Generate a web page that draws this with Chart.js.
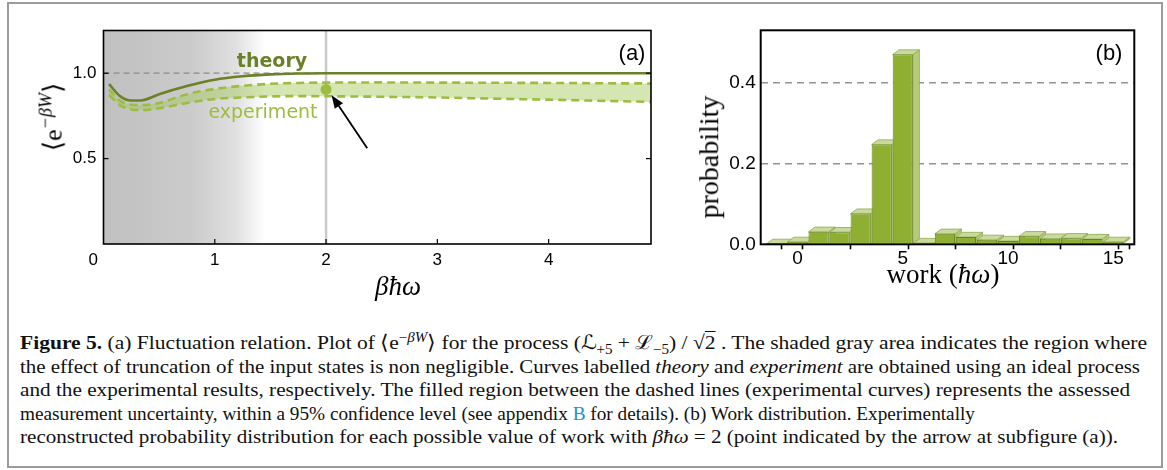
<!DOCTYPE html>
<html>
<head>
<meta charset="utf-8">
<script src="https://cdn.jsdelivr.net/npm/chart.js@4.4.1/dist/chart.umd.min.js"></script>
<style>
  html, body { margin: 0; padding: 0; background: #fff; }
  body { width: 1167px; height: 470px; overflow: hidden; position: relative; font-family: "Liberation Sans", Arial, sans-serif; }
  #frame { position: absolute; left: 7px; top: 2px; width: 1152px; height: 462px; border: 2px solid #9b9b9b; }
  canvas { position: absolute; }
  #chartA { left: 20px; top: 10px; }
  #chartB { left: 690px; top: 10px; }
  .lbl { position: absolute; white-space: nowrap; transform: translate(-50%, -50%); line-height: 1.2; }
  .rot { transform: translate(-50%, -50%) rotate(-90deg); }
  .serif { font-family: "Liberation Serif", "DejaVu Serif", serif; }
  .cap { position: absolute; left: 20px; white-space: nowrap; font-family: "Liberation Serif", serif; font-size: 19.5px; line-height: 23px; color: #111; transform-origin: left center; }
  .cap sup, .cap sub { font-size: 0.7em; line-height: 0; }
</style>
</head>
<body>
<div id="frame"></div>
<canvas id="chartA" width="650" height="300"></canvas>
<canvas id="chartB" width="470" height="300"></canvas>

<div class="lbl" style="left:272px;top:60px;font-family:'DejaVu Sans';font-weight:bold;font-size:19px;color:#6a8128;">theory</div>
<div class="lbl" style="left:263px;top:111px;font-family:'DejaVu Sans';font-size:19px;color:#9cbd3f;">experiment</div>
<div class="lbl" style="left:632px;top:53px;font-size:22px;">(a)</div>
<div class="lbl" style="left:1109px;top:53px;font-size:22px;">(b)</div>
<div class="lbl rot serif" style="left:52px;top:117px;font-size:26px;">⟨e<sup style="font-size:0.7em;font-style:italic;">−βW</sup>⟩</div>
<div class="lbl serif" style="left:398px;top:286px;font-size:27px;font-style:italic;">βħω</div>
<div class="lbl rot serif" style="left:709px;top:157px;font-size:28px;">probability</div>
<div class="lbl serif" style="left:943px;top:274px;font-size:27px;">work (<i>ħω</i>)</div>

<div class="cap" style="top:331px;"><span><b>Figure 5.</b> (a) Fluctuation relation. Plot of ⟨e<sup>−<i>βW</i></sup>⟩ for the process (ℒ<sub>+5</sub> + ℒ<sub>−5</sub>) / √<span style="text-decoration:overline">2</span> . The shaded gray area indicates the region where</span></div>
<div class="cap" style="top:355px;"><span>the effect of truncation of the input states is non negligible. Curves labelled <i>theory</i> and <i>experiment</i> are obtained using an ideal process</span></div>
<div class="cap" style="top:378px;"><span>and the experimental results, respectively. The filled region between the dashed lines (experimental curves) represents the assessed</span></div>
<div class="cap" style="top:402px;"><span>measurement uncertainty, within a 95% confidence level (see appendix <span style="color:#1a93d0">B</span> for details). (b) Work distribution. Experimentally</span></div>
<div class="cap" style="top:425px;"><span>reconstructed probability distribution for each possible value of work with <i>βħω</i> = 2 (point indicated by the arrow at subfigure (a)).</span></div>

<script>
// ---- (a) fluctuation relation ----
const betaHw = [0.05, 0.15, 0.25, 0.35, 0.5, 0.75, 1.0, 1.25, 1.5, 1.75, 2.0, 2.5, 3.0, 3.5, 4.0, 4.5, 4.92];
const theory = [0.936, 0.865, 0.840, 0.842, 0.877, 0.925, 0.962, 0.982, 0.993, 0.998, 1.0, 1.0, 1.0, 1.0, 1.0, 1.0, 1.0];
const expUpper = [0.905, 0.838, 0.815, 0.813, 0.826, 0.877, 0.908, 0.926, 0.938, 0.943, 0.945, 0.946, 0.945, 0.944, 0.943, 0.941, 0.940];
const expLower = [0.872, 0.812, 0.788, 0.784, 0.795, 0.826, 0.849, 0.858, 0.864, 0.866, 0.865, 0.862, 0.858, 0.851, 0.845, 0.838, 0.832];
const measuredPoint = { x: 2.0, y: 0.905 };
const arrowTail = { x: 2.37, y: 0.56 };
const arrowTip = { x: 2.05, y: 0.871 };
const betaTicks = [0, 1, 2, 3, 4];
const expTicks = [0.5, 1.0];
const shadeEnd = 1.45;

// ---- (b) work distribution ----
const work = [-1, 0, 1, 2, 3, 4, 5, 6, 7, 8, 9, 10, 11, 12, 13, 14, 15];
const workProb = [0.001, 0.006, 0.031, 0.030, 0.076, 0.247, 0.470, 0.003, 0.026, 0.018, 0.011, 0.008, 0.020, 0.014, 0.015, 0.013, 0.006];
const workTickMarks = [-0.5, 0, 0.5, 4.5, 5, 5.5, 9.5, 10, 10.5, 14.5, 15, 15.5];
const probTicks = [0, 0.2, 0.4];

const xy = (xs, ys) => xs.map((x, i) => ({ x, y: ys[i] }));
const tickFont = { family: "Liberation Sans", size: 17 };

const decorA = {
  id: "decorA",
  beforeDraw(chart) {
    const { ctx, chartArea: a, scales: { x, y } } = chart;
    ctx.save();
    const x0 = x.getPixelForValue(0), x1 = x.getPixelForValue(shadeEnd);
    const g = ctx.createLinearGradient(x0, 0, x1, 0);
    g.addColorStop(0, "#c0c0c0");
    g.addColorStop(0.55, "#cbcbcb");
    g.addColorStop(0.82, "#e0e0e0");
    g.addColorStop(1, "#ffffff");
    ctx.fillStyle = g;
    ctx.fillRect(x0, a.top, x1 - x0, a.bottom - a.top);
    // reference line at 1
    ctx.strokeStyle = "#8a8a8a";
    ctx.lineWidth = 1.2;
    ctx.setLineDash([6, 4]);
    ctx.beginPath();
    ctx.moveTo(a.left, y.getPixelForValue(1));
    ctx.lineTo(a.right, y.getPixelForValue(1));
    ctx.stroke();
    ctx.setLineDash([]);
    // marker line at the measured value
    const xm = x.getPixelForValue(measuredPoint.x);
    ctx.strokeStyle = "#c9c9c9";
    ctx.lineWidth = 2.5;
    ctx.beginPath();
    ctx.moveTo(xm, a.top);
    ctx.lineTo(xm, a.bottom);
    ctx.stroke();
    ctx.restore();
  },
  afterDatasetsDraw(chart) {
    const { ctx, chartArea: a, scales: { x, y } } = chart;
    ctx.save();
    // arrow
    const tx = x.getPixelForValue(arrowTail.x), ty = y.getPixelForValue(arrowTail.y);
    const hx = x.getPixelForValue(arrowTip.x), hy = y.getPixelForValue(arrowTip.y);
    const ang = Math.atan2(hy - ty, hx - tx);
    const len = 13, half = 5;
    const bx = hx - len * Math.cos(ang), by = hy - len * Math.sin(ang);
    ctx.strokeStyle = "#000";
    ctx.lineWidth = 1.8;
    ctx.beginPath();
    ctx.moveTo(tx, ty);
    ctx.lineTo(bx, by);
    ctx.stroke();
    ctx.fillStyle = "#000";
    ctx.beginPath();
    ctx.moveTo(hx, hy);
    ctx.lineTo(bx + half * Math.sin(ang), by - half * Math.cos(ang));
    ctx.lineTo(bx - half * Math.sin(ang), by + half * Math.cos(ang));
    ctx.closePath();
    ctx.fill();
    // inner ticks
    ctx.lineWidth = 1.2;
    betaTicks.slice(1).forEach((v) => {
      const px = x.getPixelForValue(v);
      ctx.beginPath(); ctx.moveTo(px, a.bottom); ctx.lineTo(px, a.bottom - 5); ctx.stroke();
    });
    expTicks.forEach((v) => {
      const py = y.getPixelForValue(v);
      ctx.beginPath(); ctx.moveTo(a.left, py); ctx.lineTo(a.left + 5, py); ctx.stroke();
      ctx.beginPath(); ctx.moveTo(a.right, py); ctx.lineTo(a.right - 5, py); ctx.stroke();
    });
    ctx.lineWidth = 1.6;
    ctx.strokeRect(a.left, a.top, a.right - a.left, a.bottom - a.top);
    ctx.restore();
  },
};

new Chart(document.getElementById("chartA"), {
  type: "line",
  data: {
    datasets: [
      { label: "measured", type: "scatter", data: [measuredPoint], pointRadius: 5.5, pointBackgroundColor: "#9cbd3f", pointBorderWidth: 0, showLine: false },
      { label: "theory", data: xy(betaHw, theory), borderColor: "#6a8128", borderWidth: 2.6, pointRadius: 0, cubicInterpolationMode: "monotone", fill: false },
      { label: "upper", data: xy(betaHw, expUpper), borderColor: "#9cbd3f", borderWidth: 2.6, borderDash: [8, 5], pointRadius: 0, cubicInterpolationMode: "monotone", fill: "+1", backgroundColor: "rgba(163,200,85,0.45)" },
      { label: "lower", data: xy(betaHw, expLower), borderColor: "#9cbd3f", borderWidth: 2.6, borderDash: [8, 5], pointRadius: 0, cubicInterpolationMode: "monotone", fill: false },
    ],
  },
  options: {
    responsive: false,
    animation: false,
    events: [],
    layout: { padding: { top: 20.5, right: 19, left: 0, bottom: 0 } },
    plugins: { legend: { display: false }, tooltip: { enabled: false }, filler: { drawTime: "beforeDatasetsDraw" } },
    scales: {
      x: {
        type: "linear", min: 0, max: 4.92,
        afterBuildTicks: (s) => { s.ticks = betaTicks.map((v) => ({ value: v })); },
        afterFit: (s) => { s.height = 66; },
        grid: { display: false, drawTicks: false }, border: { display: false },
        ticks: { padding: 6, color: "#000", font: tickFont, maxRotation: 0, autoSkip: false, callback: (v) => (v === 0 ? "0\u2003\u2009" : String(v)) },
      },
      y: {
        min: 0, max: 1.25,
        afterBuildTicks: (s) => { s.ticks = expTicks.map((v) => ({ value: v })); },
        afterFit: (s) => { s.width = 83.5; },
        grid: { display: false, drawTicks: false }, border: { display: false },
        ticks: { padding: 7, color: "#000", font: tickFont, callback: (v) => v.toFixed(1) },
      },
    },
  },
  plugins: [decorA],
});

// 3D look of the bars: side and top faces drawn under the fronts
const bar3d = {
  id: "bar3d",
  beforeDatasetsDraw(chart) {
    const ctx = chart.ctx;
    const dx = 6.5, dy = 4.7;
    ctx.save();
    ctx.lineWidth = 0.8;
    ctx.strokeStyle = "#8fa958";
    chart.getDatasetMeta(0).data.forEach((bar) => {
      const { x, y, base, width } = bar.getProps(["x", "y", "base", "width"], true);
      const l = x - width / 2, r = x + width / 2;
      ctx.beginPath();
      ctx.moveTo(r, y); ctx.lineTo(r + dx, y - dy); ctx.lineTo(r + dx, base - dy); ctx.lineTo(r, base);
      ctx.closePath();
      ctx.fillStyle = "#b4cb7c";
      ctx.fill(); ctx.stroke();
      ctx.beginPath();
      ctx.moveTo(l, y); ctx.lineTo(l + dx, y - dy); ctx.lineTo(r + dx, y - dy); ctx.lineTo(r, y);
      ctx.closePath();
      ctx.fillStyle = "#c9da9a";
      ctx.fill(); ctx.stroke();
    });
    ctx.restore();
  },
  afterDraw(chart) {
    const { ctx, chartArea: a } = chart;
    ctx.save();
    ctx.strokeStyle = "#000";
    ctx.lineWidth = 2;
    ctx.strokeRect(a.left, a.top, a.right - a.left, a.bottom - a.top);
    ctx.restore();
  },
};

const isWhole = (c) => c.tick && Number.isInteger(c.tick.value);

new Chart(document.getElementById("chartB"), {
  type: "bar",
  data: {
    datasets: [{
      label: "probability",
      data: xy(work, workProb),
      backgroundColor: "#8eaf31",
      borderColor: "#66841f",
      borderWidth: 1,
      // the tick marks sit half a unit apart, so the sample size the bars see is 0.5
      barPercentage: 1.92,
      categoryPercentage: 1,
    }],
  },
  options: {
    responsive: false,
    animation: false,
    events: [],
    layout: { padding: { top: 20.3, right: 25.7, left: 0, bottom: 0 } },
    plugins: { legend: { display: false }, tooltip: { enabled: false } },
    scales: {
      x: {
        type: "linear", min: -1.75, max: 16, offset: false,
        afterBuildTicks: (s) => { s.ticks = workTickMarks.map((v) => ({ value: v })); },
        afterFit: (s) => { s.height = 65.7; },
        grid: {
          drawOnChartArea: false, drawTicks: true, tickLength: 5, tickWidth: 1.6,
          tickColor: (c) => (isWhole(c) ? "rgba(0,0,0,0)" : "#000"),
        },
        border: { display: false },
        ticks: { padding: -2, color: "#000", font: { family: "Liberation Sans", size: 19 }, maxRotation: 0, autoSkip: false, callback: (v) => (Number.isInteger(v) ? String(v) : "") },
      },
      y: {
        min: 0, max: 0.53, z: 1,
        afterBuildTicks: (s) => { s.ticks = probTicks.map((v) => ({ value: v })); },
        afterFit: (s) => { s.width = 70.7; },
        grid: { drawTicks: false, lineWidth: 1.5, color: (c) => (c.tick && c.tick.value === 0 ? "rgba(0,0,0,0)" : "rgba(40,40,40,0.5)") },
        border: { display: false, dash: [7, 5] },
        ticks: { padding: 5, color: "#000", font: { family: "Liberation Sans", size: 19 }, callback: (v) => v.toFixed(1) },
      },
    },
  },
  plugins: [bar3d],
});

// caption: stretch each line to the width it has in the figure
const captionWidths = [1127, 1120, 1110, 955, 1098];
document.querySelectorAll(".cap").forEach((el, i) => {
  const w = el.firstElementChild.getBoundingClientRect().width;
  el.style.transform = `scaleX(${captionWidths[i] / w})`;
});
</script>
</body>
</html>
